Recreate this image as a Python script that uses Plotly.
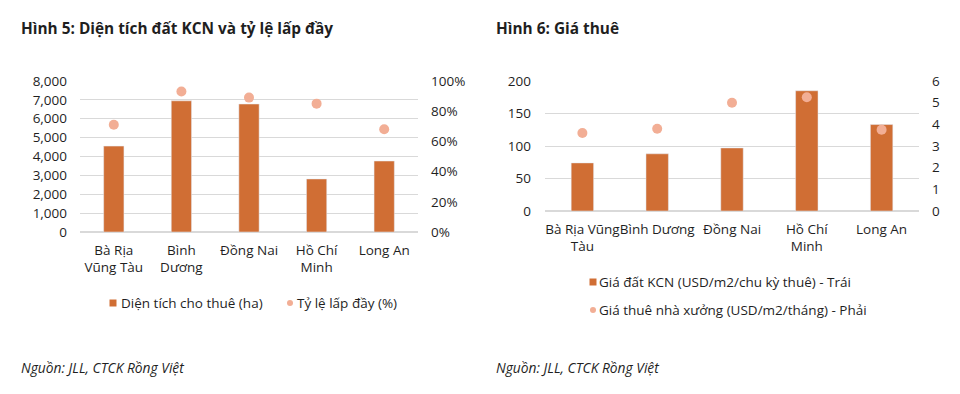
import plotly.graph_objects as go

# ---- Data ----
provinces = ["Bà Rịa Vũng Tàu", "Bình Dương", "Đồng Nai", "Hồ Chí Minh", "Long An"]
labels_left = ["Bà Rịa<br>Vũng Tàu", "Bình<br>Dương", "Đồng Nai", "Hồ Chí<br>Minh", "Long An"]
labels_right = ["Bà Rịa Vũng<br>Tàu", "Bình Dương", "Đồng Nai", "Hồ Chí<br>Minh", "Long An"]

leased_area_ha = [4550, 6950, 6780, 2810, 3760]
occupancy_rate = [0.71, 0.93, 0.89, 0.85, 0.68]

land_price_usd = [74, 88, 97, 185, 133]
factory_rent_usd = [3.6, 3.8, 5.0, 5.25, 3.75]

left_ticks = list(range(0, 8001, 1000))
pct_ticks = [0, 0.2, 0.4, 0.6, 0.8, 1.0]
price_ticks = [0, 50, 100, 150, 200]
rent_ticks = [0, 1, 2, 3, 4, 5, 6]

BAR = "#D06E34"
DOT = "#F2AE95"
TXT = "#1f1f1f"
GRID = "#d9d9d9"
FONT = "Open Sans"
PAGE_OFF = 8            # default body margin of the html page
W, H = 960 - 2 * PAGE_OFF, 394 - 2 * PAGE_OFF
FS = 13.5

def px(x):
    return (x - PAGE_OFF) / W

def py(y):
    return 1 - (y - PAGE_OFF) / H

fig = go.Figure()
fig.add_trace(go.Bar(x=provinces, y=leased_area_ha, marker_color=BAR, xaxis="x", yaxis="y",
                     name="Diện tích cho thuê (ha)", showlegend=False))
fig.add_trace(go.Scatter(x=provinces, y=occupancy_rate, mode="markers", xaxis="x", yaxis="y2",
                         marker=dict(color=DOT, size=10), name="Tỷ lệ lấp đầy (%)", showlegend=False))
fig.add_trace(go.Bar(x=provinces, y=land_price_usd, marker_color=BAR, xaxis="x2", yaxis="y3",
                     name="Giá đất KCN (USD/m2/chu kỳ thuê) - Trái", showlegend=False))
fig.add_trace(go.Scatter(x=provinces, y=factory_rent_usd, mode="markers", xaxis="x2", yaxis="y4",
                         marker=dict(color=DOT, size=10), name="Giá thuê nhà xưởng (USD/m2/tháng) - Phải",
                         showlegend=False))

tickfont = dict(family=FONT, size=FS, color=TXT)
fig.update_layout(
    width=W, height=H, margin=dict(l=0, r=0, t=0, b=0, autoexpand=False),
    paper_bgcolor="white", plot_bgcolor="white",
    font=dict(family=FONT, size=FS, color=TXT),
    bargap=0.7, showlegend=False,
    xaxis=dict(domain=[px(80), px(418)], anchor="y", type="category", tickvals=provinces,
               ticktext=labels_left, showgrid=False, ticks="", tickfont=tickfont, ticklabelstandoff=8,
               tickangle=0, automargin=False),
    yaxis=dict(domain=[py(232), py(81)], anchor="x", range=[0, 8000], tickvals=left_ticks,
               tickformat=",", showgrid=True, gridcolor=GRID, zeroline=True, zerolinecolor=GRID,
               ticks="", tickfont=tickfont, ticklabelstandoff=12, automargin=False),
    yaxis2=dict(overlaying="y", anchor="x", side="right", range=[0, 1], tickvals=pct_ticks,
                tickformat=".0%", showgrid=False, zeroline=False, ticks="", tickfont=tickfont,
                ticklabelstandoff=12, automargin=False),
    xaxis2=dict(domain=[px(545), px(919)], anchor="y3", type="category", tickvals=provinces,
                ticktext=labels_right, showgrid=False, ticks="", tickfont=tickfont, ticklabelstandoff=8,
                tickangle=0, automargin=False),
    yaxis3=dict(domain=[py(211), py(81)], anchor="x2", range=[0, 200], tickvals=price_ticks,
                showgrid=True, gridcolor=GRID, zeroline=True, zerolinecolor=GRID,
                ticks="", tickfont=tickfont, ticklabelstandoff=13, automargin=False),
    yaxis4=dict(overlaying="y3", anchor="x2", side="right", range=[0, 6], tickvals=rent_ticks,
                showgrid=False, zeroline=False, ticks="", tickfont=tickfont, ticklabelstandoff=12,
                automargin=False),
)

ann = []
def text(x, y, s, size=FS, anchor="left"):
    ann.append(dict(x=px(x - 2), y=py(y), xref="paper", yref="paper", text=s, showarrow=False,
                    xanchor=anchor, yanchor="middle", font=dict(family=FONT, size=size, color=TXT)))

text(21, 28, "<b>Hình 5: Diện tích đất KCN và tỷ lệ lấp đầy</b>", size=15.4)
text(496, 28, "<b>Hình 6: Giá thuê</b>", size=15.4)
text(21, 367, "<i>Nguồn: JLL, CTCK Rồng Việt</i>", size=13.8)
text(496, 367, "<i>Nguồn: JLL, CTCK Rồng Việt</i>", size=13.8)

# legends
text(121, 303, "Diện tích cho thuê (ha)")
text(297, 303, "Tỷ lệ lấp đầy (%)")
text(599, 282, "Giá đất KCN (USD/m2/chu kỳ thuê) - Trái")
text(599, 310, "Giá thuê nhà xưởng (USD/m2/tháng) - Phải")

shapes = []
def sq(cx, cy, s, color):
    shapes.append(dict(type="rect", xref="paper", yref="paper", x0=px(cx - s / 2), x1=px(cx + s / 2),
                       y0=py(cy + s / 2), y1=py(cy - s / 2), fillcolor=color, line=dict(width=0)))
def circ(cx, cy, s, color):
    shapes.append(dict(type="circle", xref="paper", yref="paper", x0=px(cx - s / 2), x1=px(cx + s / 2),
                       y0=py(cy + s / 2), y1=py(cy - s / 2), fillcolor=color, line=dict(width=0)))

sq(113, 303, 7, BAR)
circ(290, 303, 6, DOT)
sq(593, 282, 7, BAR)
circ(593, 310, 6, DOT)

fig.update_layout(annotations=ann, shapes=shapes)
fig.write_html("out.html")
